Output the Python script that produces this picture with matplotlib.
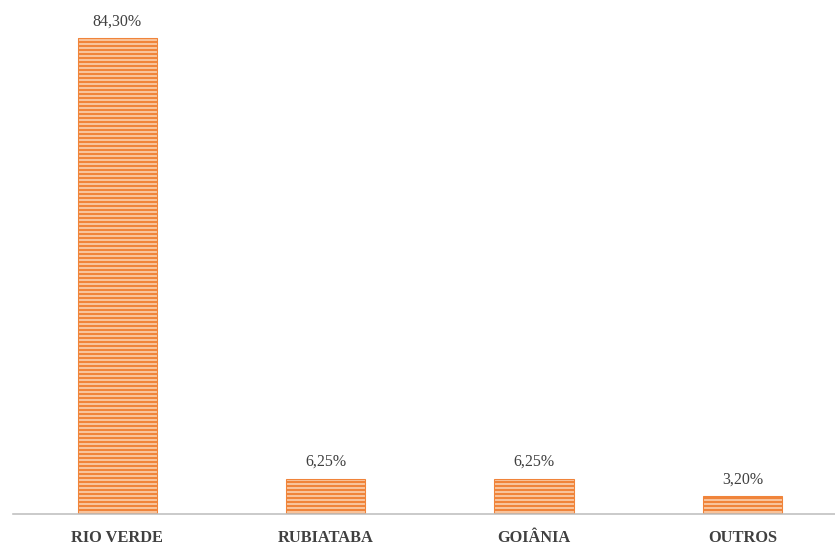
import matplotlib
matplotlib.use("Agg")
import matplotlib.pyplot as plt

categories = ["RIO VERDE", "RUBIATABA", "GOIÂNIA", "OUTROS"]
values = [84.30, 6.25, 6.25, 3.20]
value_labels = ["84,30%", "6,25%", "6,25%", "3,20%"]

DPI = 96
plt.rcParams["hatch.linewidth"] = 1.8
plt.rcParams["hatch.color"] = "#F0843A"

fig = plt.figure(figsize=(835 / DPI, 547 / DPI), dpi=DPI)
ax = fig.add_axes([13 / 835, (547 - 514) / 547, 822 / 835, 476 / 547 * 90 / 84.3])

x = range(len(categories))
ax.bar(x, values, width=0.38, color="#FBD3B4", edgecolor="#F0843A",
       linewidth=0.8, hatch="----")

for xi, v, lab in zip(x, values, value_labels):
    ax.annotate(lab, (xi, v), xytext=(0, 6.5), textcoords="offset points",
                ha="center", va="bottom", fontsize=12,
                family="Liberation Serif", color="#404040")

ax.set_xlim(-0.5, 3.444)
ax.set_ylim(0, 90)
ax.set_yticks([])
ax.set_xticks(list(x))
ax.set_xticklabels(categories, family="Liberation Serif", fontweight="bold",
                   fontsize=12.3, color="#404040")
ax.tick_params(axis="x", length=0, pad=12)
for s in ["top", "right", "left"]:
    ax.spines[s].set_visible(False)
ax.spines["bottom"].set_color("#BFBFBF")
ax.spines["bottom"].set_linewidth(1.2)

fig.savefig("out.png", dpi=DPI)
